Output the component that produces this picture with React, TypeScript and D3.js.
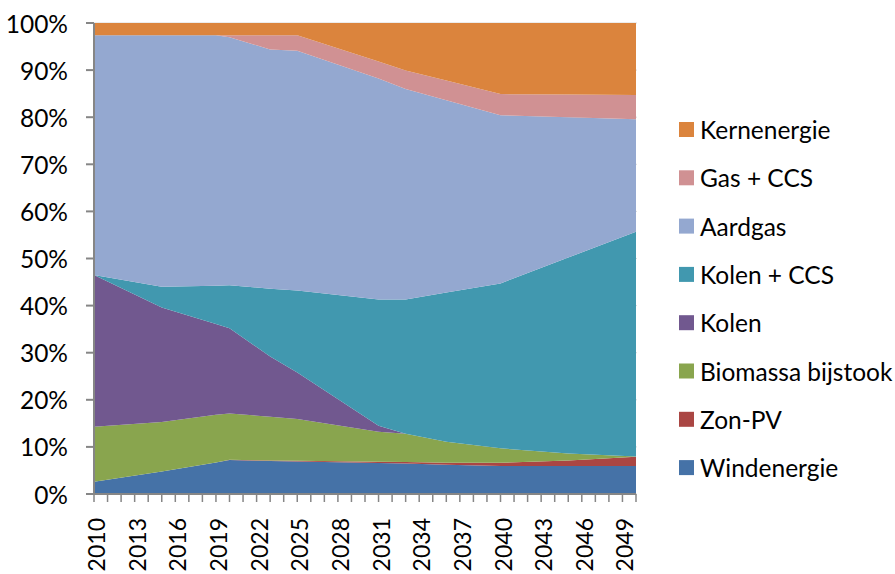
import React from "react";
import * as d3 from "d3";

const years = [2010, 2015, 2019, 2020, 2023, 2025, 2031, 2033, 2036, 2040, 2045, 2050];
const windenergie = [2.6, 4.8, 6.7, 7.2, 7.0, 6.9, 6.6, 6.5, 6.2, 5.95, 5.95, 5.95];
const zonPV = [0, 0, 0, 0.05, 0.1, 0.15, 0.25, 0.3, 0.45, 0.7, 1.15, 1.95];
const biomassa = [11.7, 10.5, 10.1, 9.85, 9.3, 8.85, 6.35, 6.0, 4.45, 3.05, 1.5, 0.05];
const kolen = [32.2, 24.3, 19.3, 18.1, 12.8, 9.9, 1.3, 0, 0, 0, 0, 0];
const kolenCCS = [0, 4.4, 8.1, 9.1, 14.4, 17.4, 26.8, 28.5, 31.7, 35.0, 41.6, 47.75];
const aardgas = [50.9, 53.4, 53.2, 52.65, 50.8, 50.9, 46.9, 44.7, 40.8, 35.7, 29.8, 23.85];
const gasCCS = [0, 0, 0, 0.45, 3.0, 3.3, 3.6, 3.9, 4.2, 4.5, 4.8, 5.15];
const kernenergie = [2.6, 2.6, 2.6, 2.6, 2.6, 2.6, 8.2, 10.1, 12.2, 15.1, 15.2, 15.3];

const seriesNames = ["Windenergie", "Zon-PV", "Biomassa bijstook", "Kolen", "Kolen + CCS", "Aardgas", "Gas + CCS", "Kernenergie"];
const seriesValues = [windenergie, zonPV, biomassa, kolen, kolenCCS, aardgas, gasCCS, kernenergie];
const seriesColors = ["#4572A7", "#AA4643", "#89A54E", "#71588F", "#4198AF", "#94A8D0", "#D09193", "#DB843D"];

const yTicks = [0, 10, 20, 30, 40, 50, 60, 70, 80, 90, 100];
const xTickYears = d3.range(2010, 2051);
const xLabelYears = d3.range(2010, 2050, 3);

const W = 895;
const H = 574;
const left = 94;
const right = 636;
const top = 23;
const bottom = 494;
const FONT = "Lato, 'Open Sans', sans-serif";

export default function App() {
  const x = d3.scaleLinear().domain([2010, 2050]).range([left, right]);
  const y = d3.scaleLinear().domain([0, 100]).range([bottom, top]);

  const rows = years.map((yr, i) => {
    const r: any = { year: yr };
    seriesNames.forEach((n, j) => (r[n] = seriesValues[j][i]));
    return r;
  });
  const stacked = d3.stack<any>().keys(seriesNames)(rows);
  const area = d3
    .area<any>()
    .x((d) => x(d.data.year))
    .y0((d) => y(d[0]))
    .y1((d) => y(d[1]));

  const axisColor = "#868686";
  const legendOrder = [...seriesNames].reverse();
  const legendColors = [...seriesColors].reverse();

  return (
    <svg width={W} height={H} style={{ position: "absolute", left: 0, top: 0, background: "#fff" }}>
      {yTicks.map((t) => (
        <line key={"g" + t} x1={left} x2={right + 1} y1={y(t)} y2={y(t)} stroke="#D9D9D9" strokeWidth={1} />
      ))}
      {stacked.map((s, i) => (
        <path key={s.key} d={area(s) || ""} fill={seriesColors[i]} stroke="none" />
      ))}
      <line x1={left} x2={left} y1={top} y2={bottom} stroke={axisColor} strokeWidth={2} />
      <line x1={left} x2={right} y1={bottom} y2={bottom} stroke={axisColor} strokeWidth={2} />
      {yTicks.map((t) => (
        <g key={"yt" + t}>
          <line x1={left - 8} x2={left} y1={y(t)} y2={y(t)} stroke={axisColor} strokeWidth={2} />
          <text x={68} y={y(t)} textAnchor="end" dominantBaseline="central" fontFamily={FONT} fontSize={24.5} fill="#000">
            {t + "%"}
          </text>
        </g>
      ))}
      {xTickYears.map((yr) => (
        <line key={"xt" + yr} x1={x(yr)} x2={x(yr)} y1={bottom} y2={bottom + 8} stroke={axisColor} strokeWidth={1.5} />
      ))}
      {xLabelYears.map((yr) => (
        <text
          key={"xl" + yr}
          transform={`translate(${x(yr) + 2},518) rotate(-90)`}
          textAnchor="end"
          dominantBaseline="central"
          fontFamily={FONT}
          fontSize={23}
          fill="#000"
        >
          {yr}
        </text>
      ))}
      {legendOrder.map((n, i) => {
        const cy = 129.5 + i * 48.3;
        return (
          <g key={"lg" + n}>
            <rect x={679} y={cy - 7.5} width={15} height={15} fill={legendColors[i]} />
            <text x={700} y={cy} dominantBaseline="central" fontFamily={FONT} fontSize={24.5} fill="#000">
              {n}
            </text>
          </g>
        );
      })}
    </svg>
  );
}
